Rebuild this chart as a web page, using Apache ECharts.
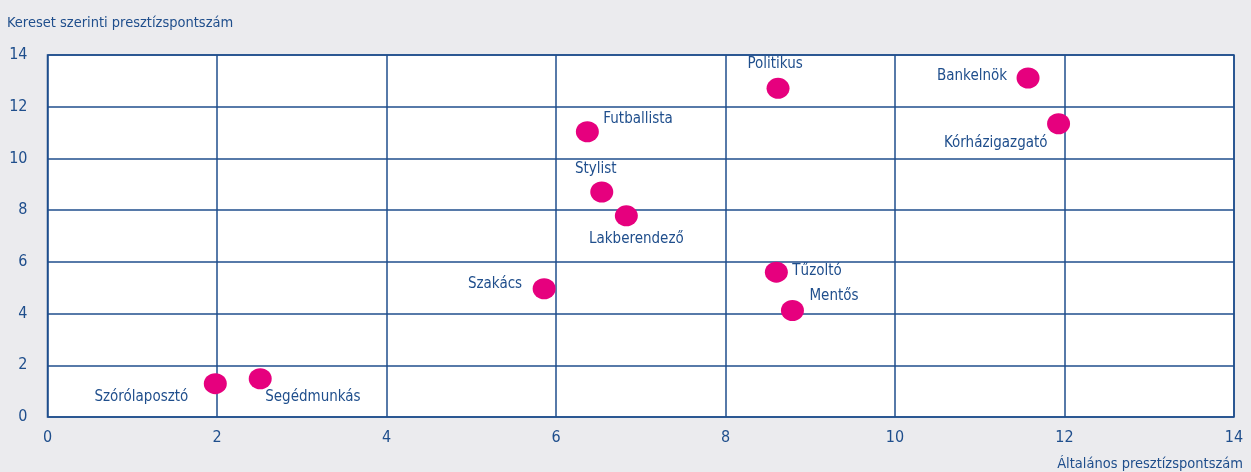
<!DOCTYPE html>
<html>
<head>
<meta charset="utf-8">
<script src="https://cdn.jsdelivr.net/npm/echarts@6/dist/echarts.min.js"></script>
<style>
  html, body { margin: 0; padding: 0; background: #ebebee; }
  #chart { width: 1251px; height: 472px; }
</style>
</head>
<body>
<div id="chart"></div>
<script>
// foglalkozások
const names = ['Szórólaposztó', 'Segédmunkás', 'Szakács', 'Futballista', 'Stylist', 'Lakberendező',
  'Politikus', 'Tűzoltó', 'Mentős', 'Bankelnök', 'Kórházigazgató']
// általános presztízspontszám
const generalScore = [1.98, 2.51, 5.86, 6.37, 6.54, 6.83, 8.62, 8.6, 8.79, 11.57, 11.93]
// kereset szerinti presztízspontszám
const incomeScore = [1.29, 1.48, 4.96, 11.03, 8.7, 7.78, 12.71, 5.6, 4.12, 13.11, 11.34]
const axisTicks = [0, 2, 4, 6, 8, 10, 12, 14]

const blue = '#1f4e8c'
const pink = '#e6007e'
const font = '"Liberation Sans Narrow", "DejaVu Sans Condensed", sans-serif'

/* címkék elhelyezése: [igazítás, dx, dy] */
const labelPlace = {
  'Szórólaposztó': ['right', -27, 13],
  'Segédmunkás': ['left', 5, 18],
  'Szakács': ['right', -22, -5],
  'Futballista': ['left', 16, -13],
  'Stylist': ['center', -6, -23],
  'Lakberendező': ['center', 10, 23],
  'Politikus': ['center', -3, -24],
  'Tűzoltó': ['left', 16, -1],
  'Mentős': ['left', 17, -14],
  'Bankelnök': ['right', -21, -2],
  'Kórházigazgató': ['right', -11, 19]
}

const points = names.map((n, i) => {
  const p = labelPlace[n]
  return {
    name: n,
    value: [generalScore[i], incomeScore[i]],
    label: { align: p[0], offset: [p[1], p[2]] }
  }
})

const chart = echarts.init(document.getElementById('chart'))
chart.setOption({
  backgroundColor: '#ebebee',
  textStyle: { fontFamily: font },
  title: [
    {
      text: 'Kereset szerinti presztízspontszám',
      left: 7, top: 16, padding: 0,
      textStyle: { color: blue, fontSize: 14.5, fontWeight: 'normal', fontFamily: font }
    },
    {
      text: 'Általános presztízspontszám',
      right: 8, top: 457, padding: 0,
      textStyle: { color: blue, fontSize: 14.5, fontWeight: 'normal', fontFamily: font }
    }
  ],
  grid: {
    left: 47.5, right: 17, top: 55, bottom: 55,
    show: true, backgroundColor: '#fff', borderColor: blue, borderWidth: 1.5
  },
  xAxis: {
    type: 'value', min: 0, max: 14, interval: 2,
    axisLine: { show: false }, axisTick: { show: false },
    splitLine: { lineStyle: { color: blue, width: 1.5 } },
    axisLabel: { color: blue, fontSize: 16, margin: 13, fontFamily: font,
      formatter: v => axisTicks.includes(v) ? String(v) : '' }
  },
  yAxis: {
    type: 'value', min: 0, max: 14, interval: 2,
    axisLine: { show: false }, axisTick: { show: false },
    splitLine: { lineStyle: { color: blue, width: 1.5 } },
    axisLabel: { color: blue, fontSize: 16, margin: 20, fontFamily: font,
      formatter: v => axisTicks.includes(v) ? String(v) : '' }
  },
  series: [
    {
      type: 'scatter',
      symbolSize: [23, 21],
      itemStyle: { color: pink, opacity: 1 },
      label: {
        show: true, position: 'inside', formatter: '{b}',
        color: blue, fontSize: 15, fontFamily: font, verticalAlign: 'middle'
      },
      data: points
    }
  ]
})

window.addEventListener('resize', () => chart.resize())
</script>
</body>
</html>
